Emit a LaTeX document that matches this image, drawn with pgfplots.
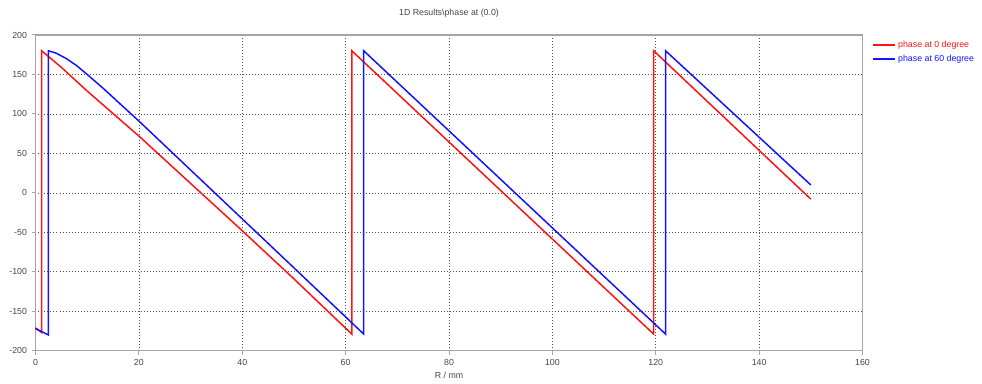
\documentclass[border=0pt]{standalone}
\usepackage{fontspec}
\setmainfont{Liberation Sans}
\usepackage{pgfplots}
\pgfplotsset{compat=1.18}

\definecolor{framegray}{RGB}{165,165,165}
\definecolor{ticktext}{RGB}{70,70,70}
\definecolor{gridgray}{RGB}{80,80,80}
\definecolor{phasered}{RGB}{255,20,20}
\definecolor{phaseblue}{RGB}{20,20,255}

\begin{document}
\begin{tikzpicture}
\begin{axis}[
  scale only axis,
  width=827pt, height=315.7pt,
  xmin=0, xmax=160, ymin=-200, ymax=200,
  xtick={0,20,...,160},
  ytick={-200,-150,...,200},
  xtick pos=bottom, ytick pos=left,
  tick align=outside,
  major tick length=4pt,
  every tick/.style={framegray, line width=1pt},
  axis line style={framegray, line width=1.4pt},
  grid=major,
  major grid style={gridgray, line width=0.6pt, dash pattern=on 1pt off 2pt},
  /pgf/number format/assume math mode=true,
  ticklabel style={font=\fontsize{8.8}{10}\selectfont, text=ticktext},
  yticklabel style={xshift=-1pt},
  xticklabel style={yshift=-1pt},
  xlabel={R / mm},
  xlabel style={font=\fontsize{8.8}{10}\selectfont, text=ticktext, at={(axis description cs:0.5,0)}, anchor=center, yshift=-25pt},
  legend style={at={(rel axis cs:1.0,1)}, anchor=north west, xshift=7pt, yshift=-2pt,
    draw=none, fill=none, font=\fontsize{8.8}{10}\selectfont,
    row sep=2pt},
  legend cell align=left,
  legend image code/.code={\draw[#1] (0pt,0pt) -- (22pt,0pt);},
  clip=false,
]
% phase at 0 degree
\addplot[phasered, line width=1.5pt] coordinates {
  (0,-171) (1.2,-177) (1.2,180) (5,159) (10,129) (20,72) (30,12) (40,-48)
  (50,-109) (61.2,-179) (61.2,180) (119.6,-179) (119.6,180) (150,-8)
};
\addlegendentry{\textcolor{phasered}{phase at 0 degree}}
% phase at 60 degree
\addplot[phaseblue, line width=1.5pt] coordinates {
  (0,-172) (2.5,-180) (2.5,180) (4,177) (6,170) (8,161) (10,150) (13,133)
  (16,115) (20,91) (30,29) (40,-33) (50,-95) (63.5,-179) (63.5,180)
  (121.9,-179) (121.9,180) (150,10)
};
\addlegendentry{\textcolor{phaseblue}{phase at 60 degree}}
\node[font=\fontsize{8.8}{10}\selectfont, text=ticktext] at (rel axis cs:0.5,1) [yshift=22pt] {1D Results\textbackslash phase at (0.0)};
\end{axis}
\pgfresetboundingbox
\path (-35.5pt,-32.3pt) rectangle (946.5pt,350.7pt);
\end{tikzpicture}
\end{document}
